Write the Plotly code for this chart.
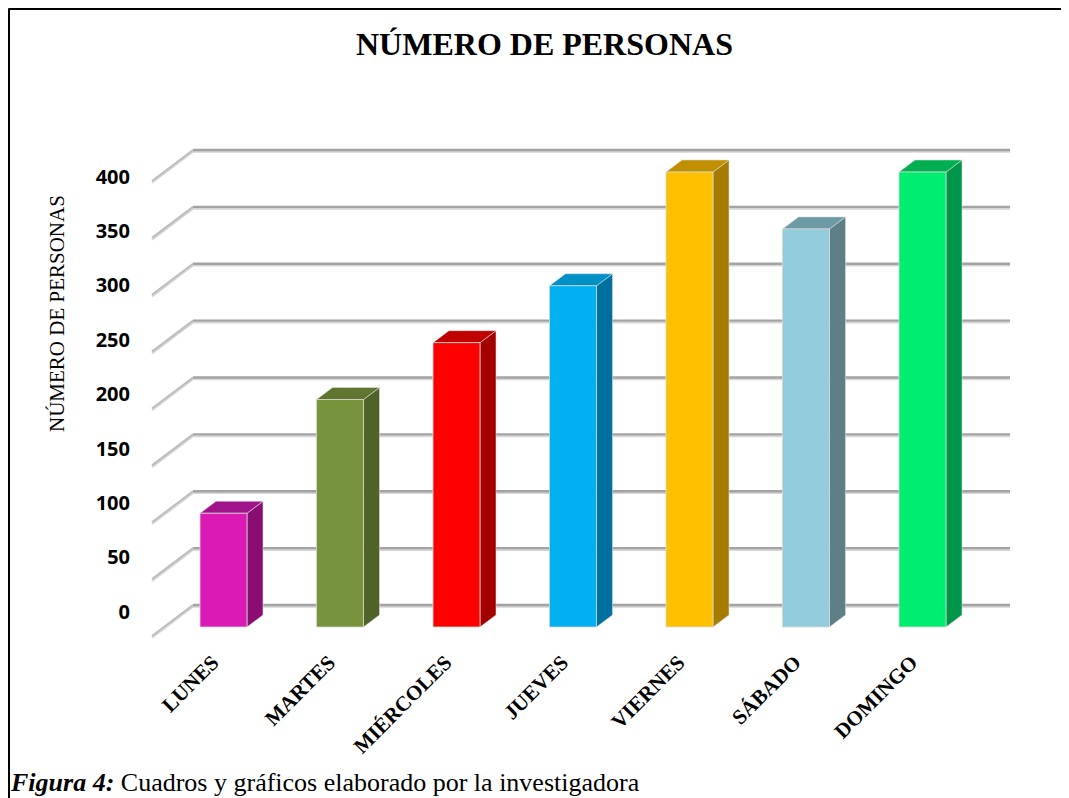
import plotly.graph_objects as go

# ---------------- data ----------------
categories = ["LUNES", "MARTES", "MIÉRCOLES", "JUEVES", "VIERNES", "SÁBADO", "DOMINGO"]
values = [100, 200, 250, 300, 400, 350, 400]
front_colors = ["#DB1AB6", "#77933C", "#FF0000", "#00B0F0", "#FFC000", "#93CDDD", "#00EE6E"]
side_colors = ["#8A0E72", "#4F6228", "#A30000", "#0070A0", "#A67C00", "#5E7F88", "#00964A"]
top_colors = ["#A0138A", "#5F7530", "#C00000", "#0090C8", "#C09000", "#6E9AA5", "#00B050"]
tick_values = [0, 50, 100, 150, 200, 250, 300, 350, 400]
title_text = "NÚMERO DE PERSONAS"
y_title = "NÚMERO DE PERSONAS"
caption_bold = "Figura 4:"
caption_rest = " Cuadros y gráficos elaborado por la investigadora"

# ---------------- geometry (screen pixels; page has an 8px body margin) ----------------
OFF = 8
SCREEN_W, SCREEN_H = 1069, 798
W, H = SCREEN_W - OFF, SCREEN_H - OFF
PL, PR, PT, PB = 140, 1020, 140, 645       # plot area in screen pixels
L, R, T, B = PL - OFF, W - (PR - OFF), PT - OFF, H - (PB - OFF)

PX_CAT = 116.5          # pixels per category
PX_VAL = 1.1375         # pixels per value unit
X0_PX = 223.5           # screen pixel of first category centre
Y0_PX = 627             # screen pixel of value 0 on the bar front plane

def px2x(p):
    return (p - X0_PX) / PX_CAT

def py2v(p):
    return (Y0_PX - p) / PX_VAL

x_range = [px2x(PL), px2x(PR)]
y_range = [py2v(PB), py2v(PT)]

half_w = 47 / PX_CAT / 2
BX, BY = 16 / PX_CAT, 12 / PX_VAL           # bar depth offset
wall_front_x, wall_front_dy = px2x(152), -9 / PX_VAL
wall_back_x, wall_back_dy = px2x(193), 22 / PX_VAL
wall_right_x = px2x(1010)
shadow = 1.8 / PX_VAL

fig = go.Figure()

# ---------------- gridlines (back wall + left wall) ----------------
for v in tick_values:
    fig.add_trace(go.Scatter(
        x=[wall_front_x, wall_back_x, wall_right_x],
        y=[v + wall_front_dy - shadow, v + wall_back_dy - shadow, v + wall_back_dy - shadow],
        mode="lines", line=dict(color="#d6d6d6", width=2), hoverinfo="skip", showlegend=False))
    fig.add_trace(go.Scatter(
        x=[wall_front_x, wall_back_x],
        y=[v + wall_front_dy, v + wall_back_dy],
        mode="lines", line=dict(color="#bdbdbd", width=2), hoverinfo="skip", showlegend=False))
    fig.add_trace(go.Scatter(
        x=[wall_back_x, wall_right_x],
        y=[v + wall_back_dy, v + wall_back_dy],
        mode="lines", line=dict(color="#a3a3a3", width=2.3), hoverinfo="skip", showlegend=False))

# ---------------- 3D bars ----------------
for i, (cat, v) in enumerate(zip(categories, values)):
    c = i
    xl, xr = c - half_w, c + half_w
    fig.add_trace(go.Scatter(
        x=[xr, xr + BX, xr + BX, xr, xr], y=[0, BY, v + BY, v, 0],
        fill="toself", fillcolor=side_colors[i], mode="lines",
        line=dict(color="rgba(225,225,225,0.7)", width=0.8),
        hoverinfo="skip", showlegend=False))
    fig.add_trace(go.Scatter(
        x=[xl, xr, xr + BX, xl + BX, xl], y=[v, v, v + BY, v + BY, v],
        fill="toself", fillcolor=top_colors[i], mode="lines",
        line=dict(color="rgba(225,225,225,0.7)", width=0.8),
        hoverinfo="skip", showlegend=False))
    fig.add_trace(go.Scatter(
        x=[xl, xr, xr, xl, xl], y=[0, 0, v, v, 0],
        fill="toself", fillcolor=front_colors[i], mode="lines",
        line=dict(color="rgba(215,215,215,0.8)", width=1),
        name=cat, hovertemplate=f"{cat}: {v}<extra></extra>", showlegend=False))

# invisible carrier trace for the label axes
fig.add_trace(go.Scatter(x=list(range(len(categories))), y=tick_values[:len(categories)],
                         xaxis="x2", yaxis="y2", mode="markers",
                         marker=dict(opacity=0), hoverinfo="skip", showlegend=False))

label_shift = 11 / PX_CAT
Y2_SCALE = 1.0875
y2_bottom = -(PB - 611.7) / Y2_SCALE
y2_top = (611.7 - PT) / Y2_SCALE

fig.update_layout(
    width=W, height=H,
    margin=dict(l=L, r=R, t=T, b=B, autoexpand=False),
    paper_bgcolor="white", plot_bgcolor="white",
    showlegend=False,
    xaxis=dict(range=x_range, showgrid=False, zeroline=False, showticklabels=False,
               showline=False, fixedrange=True),
    yaxis=dict(range=y_range, showgrid=False, zeroline=False, showticklabels=False,
               showline=False, fixedrange=True),
    xaxis2=dict(overlaying="x", anchor="y", range=[x_range[0] + label_shift, x_range[1] + label_shift],
                tickmode="array", tickvals=list(range(len(categories))), ticktext=categories,
                tickangle=-45, showgrid=False, zeroline=False, showline=False,
                ticks="", tickfont=dict(family="Liberation Serif", size=21, color="black", weight="bold"),
                fixedrange=True),
    yaxis2=dict(overlaying="y", anchor="x", range=[y2_bottom, y2_top], side="left",
                tickmode="array", tickvals=tick_values, ticktext=[str(t) for t in tick_values],
                showgrid=False, zeroline=False, showline=False,
                ticks="", ticklabelstandoff=9,
                tickfont=dict(family="Open Sans", size=20, color="black", weight="bold"),
                fixedrange=True),
)

pw, ph = PR - PL, PB - PT
def paper_x(p):
    return (p - PL) / pw
def paper_y(p):
    return (PB - p) / ph

fig.add_annotation(text=f"<b>{title_text}</b>", xref="paper", yref="paper",
                   x=paper_x(544), y=paper_y(44), xanchor="center", yanchor="middle",
                   showarrow=False, font=dict(family="Liberation Serif", size=32, color="black"))
fig.add_annotation(text=y_title, xref="paper", yref="paper",
                   x=paper_x(57), y=paper_y(314), xanchor="center", yanchor="middle",
                   textangle=-90, showarrow=False,
                   font=dict(family="Liberation Serif", size=21, color="black"))
fig.add_annotation(text=f"<b><i>{caption_bold}</i></b>{caption_rest}", xref="paper", yref="paper",
                   x=paper_x(OFF), y=paper_y(782), xanchor="left", yanchor="middle",
                   showarrow=False, font=dict(family="Liberation Serif", size=26, color="black"))

# frame
fig.add_shape(type="line", xref="paper", yref="paper",
              x0=paper_x(8.5), y0=paper_y(8.5), x1=paper_x(SCREEN_W + 5), y1=paper_y(8.5),
              line=dict(color="black", width=3))
fig.add_shape(type="line", xref="paper", yref="paper",
              x0=paper_x(8.5), y0=paper_y(8.5), x1=paper_x(8.5), y1=paper_y(SCREEN_H + 5),
              line=dict(color="black", width=3))

fig.write_html("out.html")
